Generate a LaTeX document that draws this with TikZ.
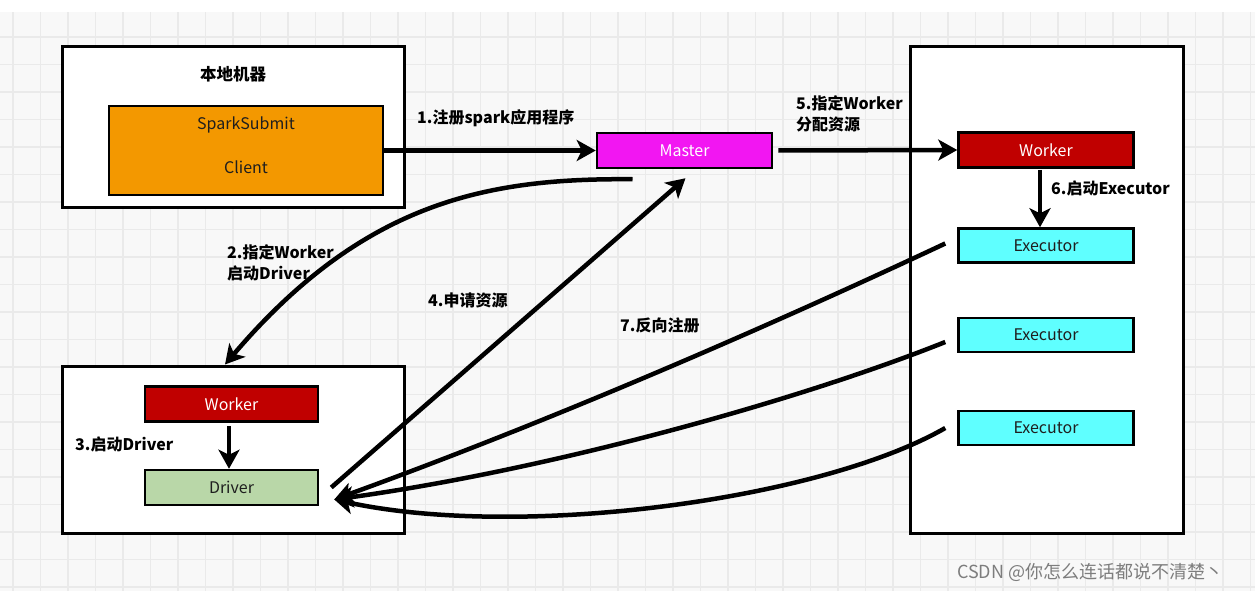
\documentclass[tikz,border=0pt]{standalone}
\usepackage{fontspec}
\setmainfont{Noto Sans CJK SC}
\usetikzlibrary{arrows.meta}
\definecolor{gridbg}{RGB}{248,248,248}
\definecolor{gridln}{RGB}{234,234,234}
\definecolor{orangefill}{RGB}{243,152,0}
\definecolor{magentafill}{RGB}{242,22,242}
\definecolor{darkredfill}{RGB}{192,0,0}
\definecolor{cyanfill}{RGB}{95,255,255}
\definecolor{greenfill}{RGB}{185,215,168}
\definecolor{darktext}{RGB}{30,30,30}
\definecolor{wmgray}{RGB}{125,125,125}
\begin{document}
\begin{tikzpicture}[x=1pt,y=-1pt,
  bigbox/.style={draw, line width=3pt, fill=white, inner sep=0pt},
  comp/.style={draw, line width=2.5pt, inner sep=0pt, minimum width=174pt, minimum height=34pt,
    font=\fontsize{16}{20}\selectfont},
  compdark/.style={comp, text=darktext},
  complight/.style={comp, text=white},
  arr/.style={line width=4.5pt, -{Stealth[length=19pt,width=21pt,inset=5pt]}},
  lbl/.style={inner sep=0pt, anchor=west, align=left, font=\bfseries\fontsize{16}{21}\selectfont}
]
\useasboundingbox (0,0) rectangle (1255,591);
% background grid
\fill[gridbg] (0,12) rectangle (1255,591);
\foreach \i in {0,...,45} \draw[gridln, line width=1.5pt] ({13+27.5*\i},12) -- ({13+27.5*\i},591);
\foreach \j in {0,...,20} \draw[gridln, line width=1.5pt] (0,{37+27.5*\j}) -- (1255,{37+27.5*\j});

% big boxes
\node[bigbox, minimum width=342pt, minimum height=160pt] (local) at (233,127) {};
\node[bigbox, minimum width=342pt, minimum height=167pt] (botbox) at (233,449.5) {};
\node[bigbox, minimum width=273pt, minimum height=486pt] (cluster) at (1047,290) {};

% title
\node[inner sep=0pt, font=\bfseries\fontsize{16.5}{20}\selectfont] (title) at (233,74) {本地机器};

% client
\node[comp, fill=orangefill, minimum width=274pt, minimum height=89pt] (client) at (246,150.5) {};
\node[inner sep=0pt, align=center, text=darktext, font=\fontsize{16}{20}\selectfont] (cltxt) at (246,145) {SparkSubmit\\[24pt]Client};

% master
\node[complight, fill=magentafill, minimum width=175pt, minimum height=35pt] (master) at (684.5,150.5) {Master};

% right side
\node[complight, fill=darkredfill, minimum width=175pt, minimum height=35pt] (workerR) at (1046,150) {Worker};
\node[compdark, fill=cyanfill, minimum width=175pt] (exec1) at (1046,245.5) {Executor};
\node[compdark, fill=cyanfill, minimum width=175pt] (exec2) at (1046,335) {Executor};
\node[compdark, fill=cyanfill, minimum width=175pt] (exec3) at (1046,428) {Executor};

% bottom-left
\node[complight, fill=darkredfill, minimum width=173pt, minimum height=35pt] (workerL) at (231.5,404) {Worker};
\node[compdark, fill=greenfill, minimum width=173pt, minimum height=35pt] (driver) at (231.5,487.5) {Driver};

% labels
\node[lbl] (l1) at (417,118) {1.注册spark应用程序};
\node[lbl] (l2) at (227,262.5) {2.指定Worker\\启动Driver};
\node[lbl] (l3) at (75,444) {3.启动Driver};
\node[lbl] (l4) at (428,300) {4.申请资源};
\node[lbl] (l5) at (796,114) {5.指定Worker\\分配资源};
\node[lbl] (l6) at (1051,188) {6.启动Executor};
\node[lbl] (l7) at (620,325) {7.反向注册};

% arrows
\draw[arr] (client.east) -- (master.west);
\draw[arr] ([xshift=5pt]master.east) -- (workerR.west);
\draw[arr] ([xshift=-6pt,yshift=-1pt]workerR.south) -- ([xshift=-6pt]exec1.north);
\draw[arr] ([xshift=-2.5pt,yshift=-3pt]workerL.south) -- ([xshift=-2.5pt]driver.north);
\draw[arr] ([xshift=-52pt,yshift=-10pt]master.south) .. controls (490,178) and (365,200) .. ([xshift=-8pt]botbox.north);
\draw[arr] ([xshift=12pt]driver.east) -- ([xshift=1pt,yshift=-9pt]master.south);

\coordinate (t7) at ([xshift=15pt,yshift=-12pt]driver.east);
\draw[arr] ([xshift=-12pt,yshift=2pt]exec1.west) .. controls (750,335) and (540,425) .. (t7);
\draw[arr] ([xshift=-12pt,yshift=-7pt]exec2.west) .. controls (800,400) and (550,470) .. (t7);
\draw[arr] ([xshift=-12pt]exec3.west) .. controls (820,500) and (520,540) .. (t7);

% watermark
\node[inner sep=0pt, anchor=west, text=wmgray, font=\fontsize{18}{20}\selectfont] (wm) at (957,572) {CSDN @你怎么连话都说不清楚丶};
\end{tikzpicture}
\end{document}
